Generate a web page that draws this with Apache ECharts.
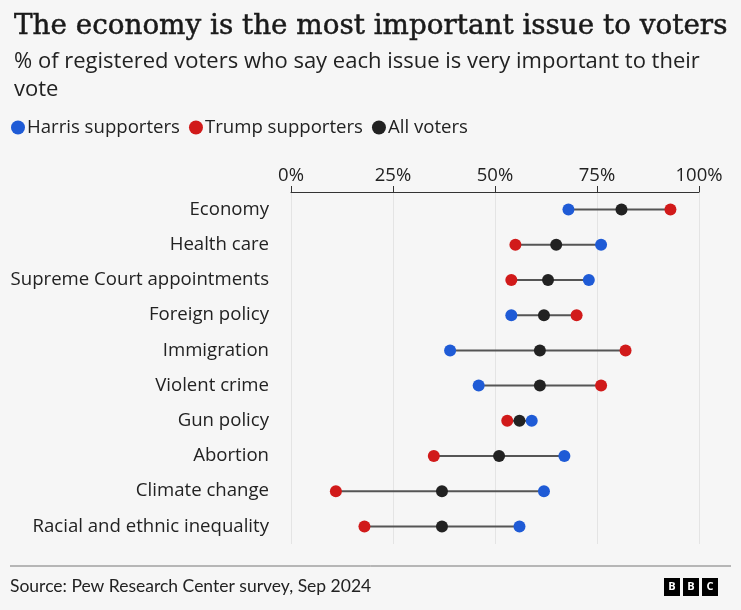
<!DOCTYPE html>
<html>
<head>
<meta charset="utf-8">
<script src="https://cdn.jsdelivr.net/npm/echarts@6/dist/echarts.min.js"></script>
<style>
html,body{margin:0;padding:0;background:#f6f6f6;}
#chart{width:741px;height:610px;}
</style>
</head>
<body>
<div id="chart"></div>
<script>
const categories = ["Economy","Health care","Supreme Court appointments","Foreign policy","Immigration","Violent crime","Gun policy","Abortion","Climate change","Racial and ethnic inequality"];
const harris = [68,76,73,54,39,46,59,67,62,56];
const trump  = [93,55,54,70,82,76,53,35,11,18];
const allVoters = [81,65,63,62,61,61,56,51,37,37];
const tickLabels = ["0%","25%","50%","75%","100%"];

const BLUE = "#1f5bd6", RED = "#d11a1a", BLACK = "#222222";
const FONT = "'Open Sans', 'Noto Sans', sans-serif";

const rangeData = categories.map((c, i) => {
  const v = [harris[i], trump[i], allVoters[i]];
  return [Math.min(...v), Math.max(...v), i];
});

const chart = echarts.init(document.getElementById('chart'), null, {renderer:'canvas'});
chart.setOption({
  backgroundColor: "#f6f6f6",
  animation: false,
  textStyle: {fontFamily: FONT},
  title: {
    left: 9, top: 8,
    text: "The economy is the most important issue to voters",
    textStyle: {fontFamily: "'DejaVu Serif', serif", fontSize: 27.8, fontWeight: 'normal', color: "#1a1a1a",
      textBorderColor: "#1a1a1a", textBorderWidth: 0.5},
    subtext: "% of registered voters who say each issue is very important to their\nvote",
    subtextStyle: {fontFamily: FONT, fontSize: 22, color: "#222", lineHeight: 28},
    itemGap: 6
  },
  legend: {
    left: 6, top: 113,
    icon: 'circle', itemWidth: 14, itemHeight: 14, itemGap: 9,
    textStyle: {fontFamily: FONT, fontSize: 18.6, color: "#222", padding: [0,0,0,-3]},
    data: ["Harris supporters","Trump supporters","All voters"]
  },
  grid: {left: 291, right: 42, top: 192, bottom: 66},
  xAxis: {
    type: 'value', position: 'top', min: 0, max: 100, interval: 25,
    axisLine: {show: true, lineStyle: {color: "#333", width: 1}},
    axisTick: {show: true, length: 6, lineStyle: {color: "#333"}},
    axisLabel: {fontFamily: FONT, fontSize: 18.5, color: "#222", margin: 7,
      formatter: (v) => tickLabels[Math.round(v/25)]},
    splitLine: {show: true, lineStyle: {color: "#e4e4e4", width: 1}}
  },
  yAxis: {
    type: 'category', data: categories, inverse: true,
    axisLine: {show: false}, axisTick: {show: false},
    axisLabel: {fontFamily: FONT, fontSize: 18.6, color: "#222", margin: 22}
  },
  series: [
    {
      type: 'custom', name: 'range', silent: true, z: 1,
      encode: {x: [0,1], y: 2},
      data: rangeData,
      renderItem: (params, api) => {
        const p1 = api.coord([api.value(0), api.value(2)]);
        const p2 = api.coord([api.value(1), api.value(2)]);
        return {type: 'line', shape: {x1: p1[0], y1: p1[1], x2: p2[0], y2: p2[1]},
          style: {stroke: "#555", lineWidth: 2}};
      }
    },
    {type: 'scatter', name: "Harris supporters", symbolSize: 12, z: 3,
      itemStyle: {color: BLUE, opacity: 1},
      data: harris.map((v, i) => [v, i])},
    {type: 'scatter', name: "Trump supporters", symbolSize: 12, z: 3,
      itemStyle: {color: RED, opacity: 1},
      data: trump.map((v, i) => [v, i])},
    {type: 'scatter', name: "All voters", symbolSize: 12, z: 4,
      itemStyle: {color: BLACK, opacity: 1},
      data: allVoters.map((v, i) => [v, i])}
  ],
  graphic: [
    {type: 'line', shape: {x1: 10, y1: 566, x2: 731, y2: 566}, style: {stroke: "#777", lineWidth: 1}},
    {type: 'text', left: 10, top: 577, style: {text: "Source: Pew Research Center survey, Sep 2024", font: "17.5px Lato, sans-serif", fill: "#222"}},
    {type: 'group', left: 664, top: 578, children: [
      {type: 'rect', shape: {x: 0, y: 0, width: 16, height: 18}, style: {fill: "#000"}},
      {type: 'text', x: 8, y: 9, style: {text: "B", font: "bold 11px " + FONT, fill: "#fff", align: 'center', verticalAlign: 'middle'}},
      {type: 'rect', shape: {x: 19, y: 0, width: 16, height: 18}, style: {fill: "#000"}},
      {type: 'text', x: 27, y: 9, style: {text: "B", font: "bold 11px " + FONT, fill: "#fff", align: 'center', verticalAlign: 'middle'}},
      {type: 'rect', shape: {x: 38, y: 0, width: 16, height: 18}, style: {fill: "#000"}},
      {type: 'text', x: 46, y: 9, style: {text: "C", font: "bold 11px " + FONT, fill: "#fff", align: 'center', verticalAlign: 'middle'}}
    ]}
  ]
});
</script>
</body>
</html>
